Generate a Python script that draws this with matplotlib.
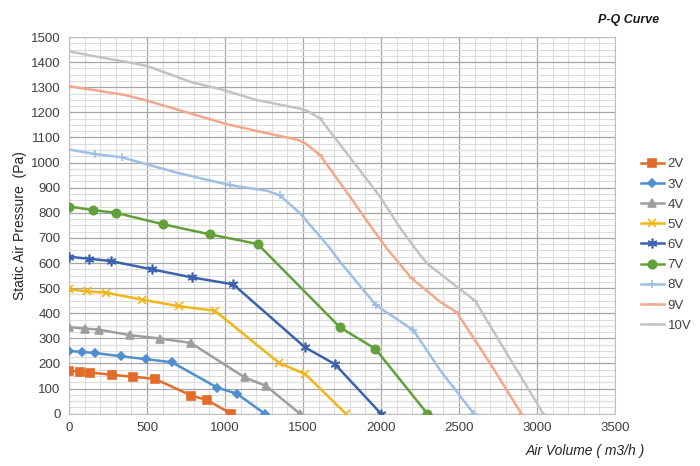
import matplotlib
matplotlib.use('Agg')
import matplotlib.pyplot as plt
from matplotlib.ticker import MultipleLocator

plt.rcParams['font.family'] = ['Liberation Sans', 'DejaVu Sans']

# P-Q data (air volume m3/h, static pressure Pa)
labels = ['2V', '3V', '4V', '5V', '6V', '7V', '8V', '9V', '10V']

q_2v = [0, 70, 135, 275, 410, 550, 785, 885, 1040]
p_2v = [170, 168, 164, 155, 147, 139, 72, 54, 0]

q_3v = [0, 80, 165, 330, 495, 660, 950, 1075, 1255]
p_3v = [250, 246, 242, 229, 217, 205, 104, 80, 0]

q_4v = [0, 100, 190, 390, 585, 780, 1125, 1265, 1480]
p_4v = [345, 339, 335, 313, 299, 282, 145, 110, 0]

q_5v = [0, 117, 237, 470, 705, 935, 1345, 1515, 1775]
p_5v = [495, 487, 482, 454, 428, 410, 203, 157, 0]

q_6v = [0, 130, 267, 530, 786, 1053, 1513, 1705, 2000]
p_6v = [625, 617, 608, 575, 543, 515, 264, 197, 0]

q_7v = [0, 152, 300, 605, 904, 1209, 1737, 1964, 2297]
p_7v = [825, 811, 800, 754, 714, 676, 344, 258, 0]

q_8v = [0, 167, 338, 690, 1032, 1267, 1353, 1481, 1673, 1737, 1968, 2207, 2378, 2595]
p_8v = [1052, 1034, 1021, 960, 910, 888, 869, 798, 659, 605, 432, 333, 174, 0]

q_9v = [0, 199, 359, 498, 776, 1011, 1224, 1470, 1513, 1609, 1801, 1951, 2036, 2196, 2378, 2485, 2699, 2900]
p_9v = [1304, 1285, 1269, 1247, 1196, 1153, 1123, 1090, 1077, 1030, 864, 731, 659, 539, 446, 404, 201, 0]

q_10v = [0, 199, 359, 498, 786, 989, 1203, 1470, 1523, 1609, 1994, 2132, 2218, 2293, 2485, 2603, 2806, 3040]
p_10v = [1443, 1419, 1402, 1385, 1320, 1289, 1249, 1216, 1207, 1176, 864, 731, 659, 599, 506, 450, 240, 0]

series_q = [q_2v, q_3v, q_4v, q_5v, q_6v, q_7v, q_8v, q_9v, q_10v]
series_p = [p_2v, p_3v, p_4v, p_5v, p_6v, p_7v, p_8v, p_9v, p_10v]

# which points carry a visible marker (the light curves only show a few)
mark_at = [None, None, None, None, None, None,
           [0, 1, 2, 4, 6, 10, 11, 13],
           [0, 9, 13, 15, 17],
           [0, 9, 15, 17]]

colors = ['#E46C2A', '#4F8FCF', '#9E9E9E', '#F2B516', '#3B62AE',
          '#62A13A', '#9DC0E4', '#F2A88A', '#C3C3C3']
markers = ['s', 'D', '^', 'x', (6, 2, 0), 'o', '+', '_', '_']
msizes = [6, 4, 6, 6, 7, 6, 6, 5, 5]

fig = plt.figure(figsize=(7, 4.66), dpi=100)
ax = fig.add_axes([0.0986, 0.1122, 0.78, 0.8084])

for q, p, lab, c, m, ms, me in zip(series_q, series_p, labels, colors, markers, msizes, mark_at):
    ax.plot(q, p, color=c, lw=1.8, marker=m, markersize=ms, markeredgewidth=1.2,
            markerfacecolor=c, markeredgecolor=c, markevery=me, label=lab, zorder=3)

ax.set_xlim(0, 3500)
ax.set_ylim(0, 1500)
ax.xaxis.set_major_locator(MultipleLocator(500))
ax.xaxis.set_minor_locator(MultipleLocator(100))
ax.yaxis.set_major_locator(MultipleLocator(100))
ax.yaxis.set_minor_locator(MultipleLocator(25))
ax.grid(which='major', color='#a6a6a6', lw=0.9, zorder=0)
ax.grid(which='minor', color='#dcdcdc', lw=0.8, zorder=0)
ax.set_axisbelow(True)
ax.tick_params(which='both', length=0, labelsize=9.5, colors='#404040', pad=6)
for s in ax.spines.values():
    s.set_color('#bfbfbf')
    s.set_linewidth(0.8)

ax.set_ylabel('Static Air Pressure  (Pa)', fontsize=10, color='#262626', labelpad=3)
fig.text(0.921, 0.032, 'Air Volume ( m3/h )', ha='right', va='center',
         fontsize=10, style='italic', color='#262626')
fig.text(0.942, 0.958, 'P-Q Curve', ha='right', va='center',
         fontsize=9, style='italic', weight='bold', color='#1a1a1a')

ax.legend(loc='center left', bbox_to_anchor=(1.025, 0.448), frameon=False,
          fontsize=9.5, handlelength=1.8, labelspacing=0.6, handletextpad=0.25,
          labelcolor='#404040')

fig.savefig('out.png', dpi=100)
